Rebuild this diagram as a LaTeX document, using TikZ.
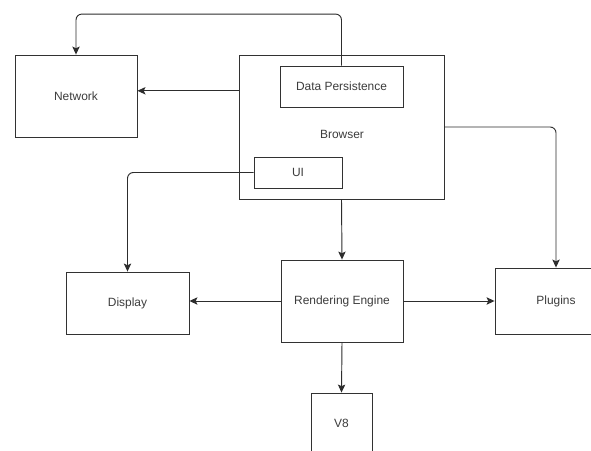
\documentclass[tikz,border=0pt]{standalone}
\usepackage{fontspec}
\setmainfont{Liberation Sans}
\usepackage{xcolor}
\usetikzlibrary{calc,arrows.meta}
\definecolor{boxline}{RGB}{50,50,50}
\definecolor{labeltext}{RGB}{60,60,60}
\definecolor{wireline}{RGB}{45,45,45}

\begin{document}
\begin{tikzpicture}[x=0.03cm, y=-0.03cm,
  box/.style={draw=boxline, line width=0.75pt, fill=none, inner sep=0pt,
    text=labeltext, font=\fontsize{10.2}{12}\selectfont},
  wire/.style={draw=wireline, line width=0.8pt, rounded corners=5,
    -{Stealth[length=2.4mm, width=2.2mm, inset=0.5mm]}}]

% 1. PAGE
\fill[white] (0,0) rectangle (591,451);
\clip (0,0) rectangle (591,451);

% 2. BOXES
\node[box, minimum width=122*0.03cm, minimum height=82*0.03cm] (network) at (76,96) {Network};
\node[box, minimum width=205*0.03cm, minimum height=144*0.03cm] (browser) at (341.5,127) {};
\node[text=labeltext, font=\fontsize{10.2}{12}\selectfont] (browserlabel) at (342,134) {Browser};
\node[box, minimum width=123*0.03cm, minimum height=41*0.03cm] (persist) at (341.5,86.5) {Data Persistence};
\node[box, minimum width=88*0.03cm, minimum height=31*0.03cm] (ui) at (298,172.5) {UI};
\node[box, minimum width=123*0.03cm, minimum height=62*0.03cm] (display) at (127.5,303) {Display};
\node[box, minimum width=122*0.03cm, minimum height=82*0.03cm] (render) at (342,301) {Rendering Engine};
\node[box, minimum width=122*0.03cm, minimum height=66*0.03cm] (plugins) at (556,301) {Plugins};
\node[box, minimum width=61*0.03cm, minimum height=60*0.03cm] (veight) at (341.5,423) {V8};

% 3. CONNECTORS
\coordinate (bwest) at ($(browser.north west)!0.25!(browser.south west)$);
\draw[wire] (persist.north) -- ++(0,-51.5) -| (network.north);
\draw[wire] (bwest) -- (bwest -| network.east);
\draw[wire] (browser.east) -| (plugins.north);
\draw[wire] (ui.west) -| (display.north);
\draw[wire] (browser.south) -- (render.north);
\draw[wire] (render.west) -- (render.west -| display.east);
\draw[wire] (render.east) -- (plugins.west);
\draw[wire] (render.south) -- (veight.north);

\end{tikzpicture}
\end{document}
